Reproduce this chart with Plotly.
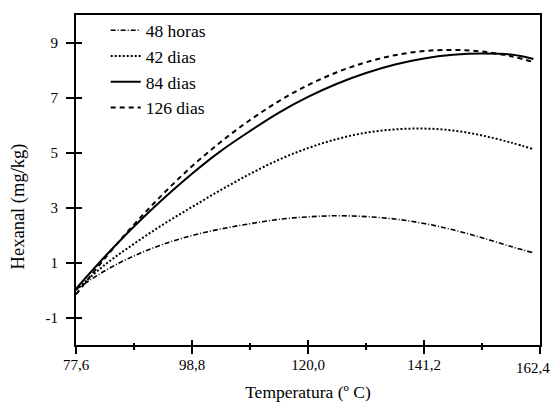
import plotly.graph_objects as go

temperatura = [77.6, 82.9, 88.2, 93.5, 98.8, 104.1, 109.4, 114.7, 120.0, 125.3,
               130.6, 135.9, 141.2, 146.5, 151.8, 157.1, 161.2]
horas_48 = [0.02, 0.70, 1.24, 1.66, 1.98, 2.22, 2.41, 2.57, 2.66, 2.70,
            2.67, 2.58, 2.42, 2.19, 1.90, 1.58, 1.35]
dias_42 = [0.00, 0.92, 1.68, 2.38, 3.02, 3.64, 4.22, 4.74, 5.16, 5.49,
           5.72, 5.84, 5.87, 5.80, 5.62, 5.36, 5.12]
dias_84 = [0.05, 1.22, 2.31, 3.31, 4.23, 5.06, 5.78, 6.45, 7.02, 7.50,
           7.89, 8.20, 8.42, 8.55, 8.60, 8.56, 8.40]
dias_126 = [-0.16, 1.16, 2.38, 3.49, 4.50, 5.39, 6.18, 6.87, 7.45, 7.92,
            8.28, 8.54, 8.69, 8.73, 8.67, 8.50, 8.29]

series_names = ["48 horas", "42 dias", "84 dias", "126 dias"]
x_ticks = [77.6, 98.8, 120.0, 141.2, 162.4]
x_tick_labels = ["77,6", "98,8", "120,0", "141,2", "162,4"]
y_ticks = [-1, 1, 3, 5, 7, 9]
y_tick_labels = ["-1", "1", "3", "5", "7", "9"]

FONT = "Liberation Serif"
X_RANGE = [77.599, 162.401]

fig = go.Figure()
styles = [
    dict(dash="5px,2px,1px,2px", width=1.6),
    dict(dash="2px,2px", width=2),
    dict(dash="solid", width=2),
    dict(dash="5px,4px", width=2),
]
for name, ys, st in zip(series_names, [horas_48, dias_42, dias_84, dias_126], styles):
    fig.add_trace(go.Scatter(x=temperatura, y=ys, name=name, mode="lines",
                             line=dict(color="black", shape="spline", **st)))

# dummy trace for overlay axes (inner tick halves)
fig.add_trace(go.Scatter(x=[None], y=[None], xaxis="x2", yaxis="y2",
                         showlegend=False, hoverinfo="skip"))

# last x tick label is drawn as an annotation so it stays inside the page
shown_labels = x_tick_labels[:-1] + [""]
annotations = [
    dict(text=x_tick_labels[-1], xref="x", yref="paper", x=x_ticks[-1], y=0,
         yshift=-13, xshift=-7, xanchor="center", yanchor="top",
         showarrow=False, font=dict(size=15, family=FONT)),
    dict(text="Hexanal (mg/kg)", textangle=-90, xref="paper",
         yref="paper", x=-0.125, y=0.42, xanchor="center",
         yanchor="middle", showarrow=False, font=dict(size=18.5, family=FONT)),
]

fig.update_layout(
    width=555, height=402,
    margin=dict(l=76, r=15, t=15, b=57),
    paper_bgcolor="white", plot_bgcolor="white",
    font=dict(family=FONT, color="black", size=15),
    showlegend=True,
    legend=dict(x=0.064, y=1.008, xanchor="left", yanchor="top",
                bgcolor="rgba(0,0,0,0)", font=dict(size=17.5, family=FONT),
                tracegroupgap=0),
    xaxis=dict(range=X_RANGE, tickmode="array", tickvals=x_ticks,
               ticktext=shown_labels, tickfont=dict(family=FONT, size=15),
               ticks="outside", ticklen=7, tickwidth=2, automargin=False,
               tickcolor="black", showline=True, linewidth=2, linecolor="black",
               mirror=True, showgrid=False, zeroline=False,
               ticklabelstandoff=-2,
               minor=dict(tick0=77.6, dtick=10.6, ticks="outside", ticklen=3,
                          tickwidth=2, tickcolor="black", showgrid=False),
               title=dict(text="Temperatura (º C)", font=dict(size=17.5, family=FONT),
                          standoff=19)),
    yaxis=dict(range=[-2, 10], tickmode="array", tickvals=y_ticks,
               ticktext=y_tick_labels, tickfont=dict(family=FONT, size=15),
               ticks="outside", ticklen=8, tickwidth=2, tickcolor="black",
               showline=True, linewidth=2, linecolor="black", mirror=True,
               showgrid=False, zeroline=False, ticklabelstandoff=5,
               automargin=False),
    xaxis2=dict(overlaying="x", anchor="y2", range=X_RANGE,
                tickmode="array", tickvals=x_ticks, ticks="inside", ticklen=5,
                tickwidth=2, tickcolor="black", showticklabels=False,
                showline=False, showgrid=False, zeroline=False, automargin=False,
                minor=dict(tick0=77.6, dtick=10.6, ticks="inside", ticklen=2,
                           tickwidth=2, tickcolor="black", showgrid=False)),
    yaxis2=dict(overlaying="y", anchor="x2", side="left", range=[-2, 10],
                tickmode="array", tickvals=y_ticks, ticks="inside", ticklen=6,
                tickwidth=2, tickcolor="black", showticklabels=False,
                showline=False, showgrid=False, zeroline=False, automargin=False),
    annotations=annotations,
)

fig.write_html("out.html", config={"displayModeBar": False},
               post_script="document.body.style.margin='0';document.body.style.overflow='hidden';")
